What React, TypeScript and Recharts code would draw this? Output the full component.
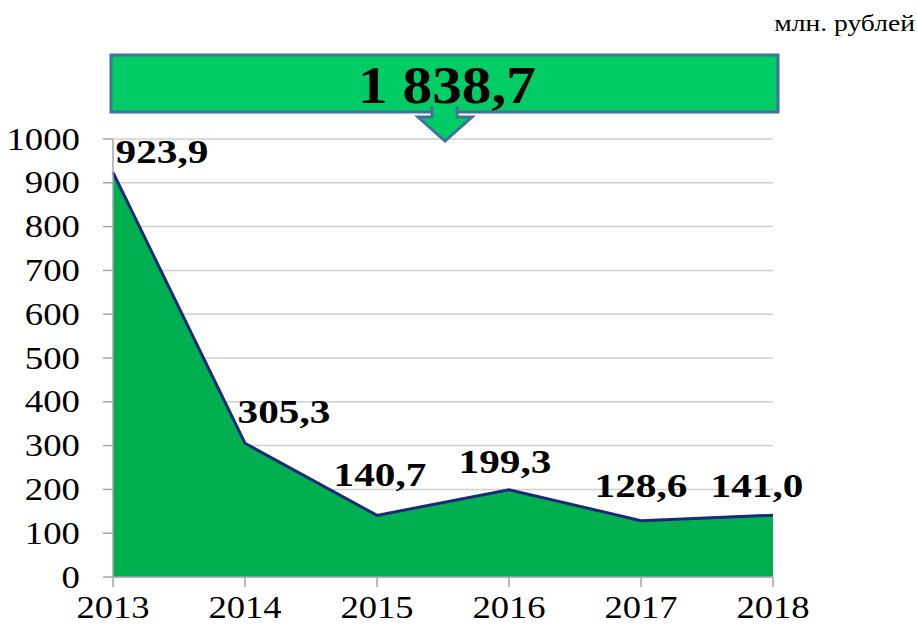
import React from "react";
import { AreaChart, Area, XAxis, YAxis, CartesianGrid, LabelList } from "recharts";

const years = ["2013", "2014", "2015", "2016", "2017", "2018"];
const amounts = [923.9, 305.3, 140.7, 199.3, 128.6, 141.0];
const valueLabels = ["923,9", "305,3", "140,7", "199,3", "128,6", "141,0"];
const yTicks = [0, 100, 200, 300, 400, 500, 600, 700, 800, 900, 1000];
const totalLabel = "1 838,7";
const unitLabel = "млн. рублей";

// label placement offsets (style only): [dx, dy] relative to point
const labelOffsets: [number, number][] = [
  [49, -9],
  [39, -20],
  [3, -29],
  [-4, -17],
  [0, -24],
  [-16, -18],
];

const data = years.map((y, i) => ({ year: y, value: amounts[i], label: valueLabels[i] }));

const FONT = '"Liberation Serif", "Times New Roman", serif';
const STRETCH = 1.15;

const YTick = (props: any) => {
  const { y, payload } = props;
  return (
    <text
      transform={`translate(80,${y + 10.5}) scale(${STRETCH},1)`}
      textAnchor="end"
      fontFamily={FONT}
      fontSize={32}
      fill="#000"
    >
      {payload.value}
    </text>
  );
};

const XTick = (props: any) => {
  const { x, payload } = props;
  return (
    <text
      transform={`translate(${x},618) scale(1.18,1)`}
      textAnchor="middle"
      fontFamily={FONT}
      fontSize={31}
      fill="#000"
    >
      {payload.value}
    </text>
  );
};

const renderLabel = (props: any) => {
  const { x, y, index } = props;
  const [dx, dy] = labelOffsets[index] || [0, -15];
  return (
    <text
      transform={`translate(${x + dx},${y + dy}) scale(1.25,1)`}
      textAnchor="middle"
      fontFamily={FONT}
      fontWeight="bold"
      fontSize={33}
      fill="#000"
    >
      {valueLabels[index]}
    </text>
  );
};

export default function App() {
  return (
    <div style={{ position: "absolute", left: 0, top: 0, width: 917, height: 625, background: "#fff" }}>
      <AreaChart
        width={917}
        height={625}
        data={data}
        margin={{ top: 139, right: 144, left: 0, bottom: 0 }}
      >
        <CartesianGrid vertical={false} stroke="#d0d0d0" strokeWidth={1.5} />
        <XAxis
          dataKey="year"
          height={48}
          tickSize={10}
          tick={<XTick />}
          axisLine={{ stroke: "#a6a6a6", strokeWidth: 1.5 }}
          tickLine={{ stroke: "#a6a6a6", strokeWidth: 1.5 }}
          interval={0}
        />
        <YAxis
          width={113}
          domain={[0, 1000]}
          ticks={yTicks}
          interval={0}
          tickSize={10}
          tick={<YTick />}
          axisLine={{ stroke: "#a6a6a6", strokeWidth: 1.5 }}
          tickLine={{ stroke: "#a6a6a6", strokeWidth: 1.5 }}
        />
        <Area
          type="linear"
          dataKey="value"
          fill="#00b050"
          fillOpacity={1}
          stroke="#1a2a78"
          strokeWidth={3}
          dot={false}
          activeDot={false}
          isAnimationActive={false}
        >
          <LabelList dataKey="value" content={renderLabel} />
        </Area>
      </AreaChart>
      <svg
        width={917}
        height={625}
        style={{ position: "absolute", left: 0, top: 0, pointerEvents: "none" }}
      >
        <text
          transform={`translate(915,31) scale(1.2,1)`}
          textAnchor="end"
          fontFamily={FONT}
          fontSize={23}
          fill="#000"
        >
          {unitLabel}
        </text>
        <rect x={111} y={55} width={667} height={57} fill="#00cc66" stroke="#41719c" strokeWidth={3} />
        <polygon
          points="432,108 457,108 457,117 472,117 445,141 418,117 432,117"
          fill="#00cc66"
          stroke="#41719c"
          strokeWidth={3}
          strokeLinejoin="miter"
        />
        <rect x={433.5} y={106} width={22} height={12} fill="#00cc66" />
        <text
          transform={`translate(447,103) scale(1.12,1)`}
          textAnchor="middle"
          fontFamily={FONT}
          fontWeight="bold"
          fontSize={53}
          fill="#000"
        >
          {totalLabel}
        </text>
      </svg>
    </div>
  );
}
